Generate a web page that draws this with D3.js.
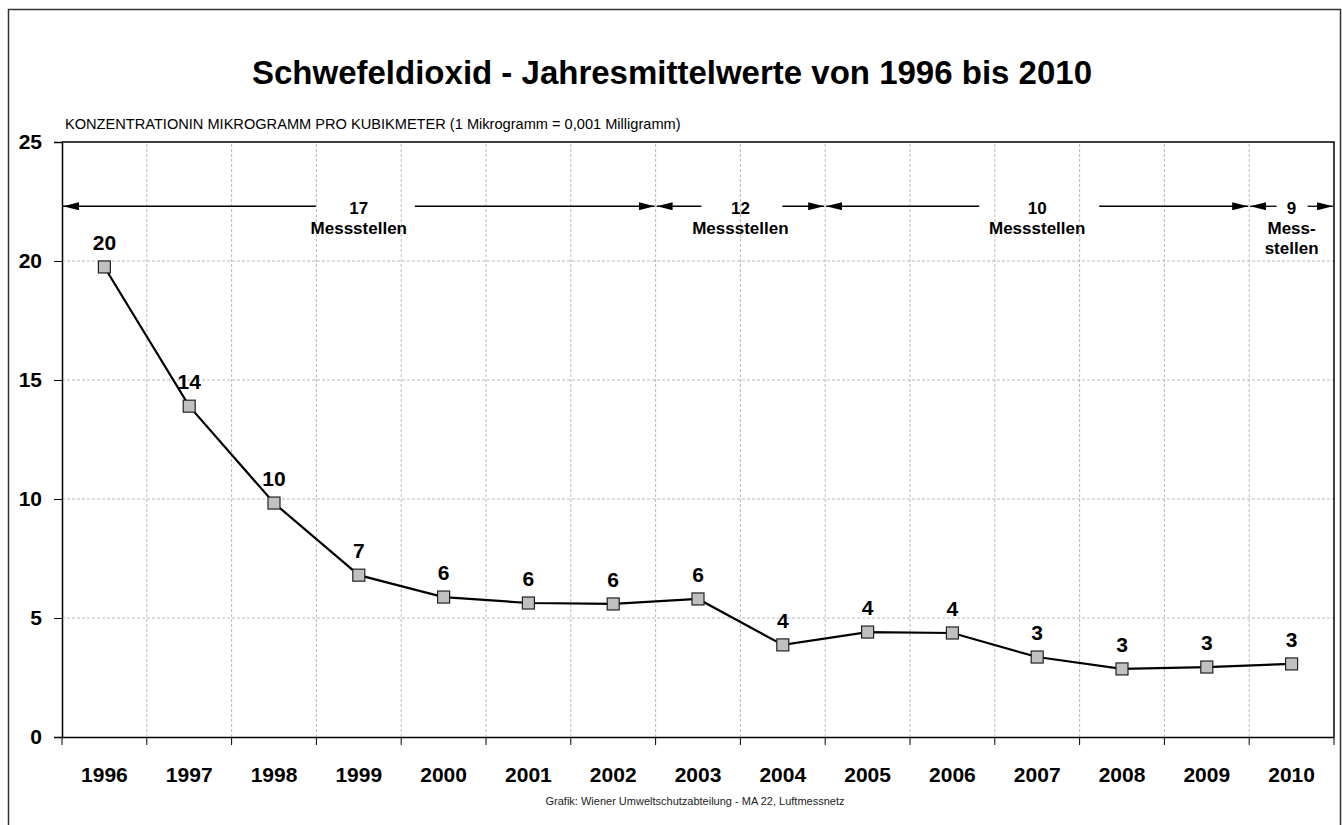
<!DOCTYPE html>
<html>
<head>
<meta charset="utf-8">
<script src="https://cdn.jsdelivr.net/npm/d3@7"></script>
<style>
  body { margin: 0; background: #fff; }
  svg { font-family: "Liberation Sans", Arial, sans-serif; }
</style>
</head>
<body>
<script>
// chart data
let years = ["1996", "1997", "1998", "1999", "2000", "2001", "2002", "2003",
  "2004", "2005", "2006", "2007", "2008", "2009", "2010"];
let values = [19.75, 13.9, 9.83, 6.8, 5.88, 5.63, 5.59, 5.8, 3.87, 4.41, 4.37, 3.36, 2.86, 2.94, 3.07];
let labels = ["20", "14", "10", "7", "6", "6", "6", "6", "4", "4", "4", "3", "3", "3", "3"];
let yTicks = [0, 5, 10, 15, 20, 25];

// station count ranges (first year, last year, label lines)
let stationFrom = ["1996", "2003", "2005", "2010"];
let stationTo = ["2002", "2004", "2009", "2010"];
let stationLines = [["17", "Messstellen"], ["12", "Messstellen"], ["10", "Messstellen"], ["9", "Mess-", "stellen"]];
let stationLevel = 22.3;

let width = 1342,
  height = 825;
let margin = { top: 142, right: 8, bottom: 88, left: 62 };

let svg = d3.select("body").append("svg")
  .attr("width", width)
  .attr("height", height);

// outer frame
svg.append("rect")
  .attr("x", 8.5).attr("y", 9.5)
  .attr("width", 1332).attr("height", 830)
  .attr("fill", "none")
  .attr("stroke", "#333")
  .attr("stroke-width", 1.5);

let x = d3.scaleBand()
  .domain(years)
  .range([margin.left, width - margin.right]);

let y = d3.scaleLinear()
  .domain([0, 25])
  .range([height - margin.bottom, margin.top]);

let x0 = x.range()[0], x1 = x.range()[1];
let font = "Liberation Sans, Arial, sans-serif";

// gridlines
svg.append("g")
  .selectAll("line")
  .data(yTicks.filter(d => d > 0 && d < 25))
  .join("line")
  .attr("x1", x0).attr("x2", x1)
  .attr("y1", d => y(d)).attr("y2", d => y(d))
  .attr("stroke", "#b8b8b8")
  .attr("stroke-dasharray", "3,2");

svg.append("g")
  .selectAll("line")
  .data(years.slice(1))
  .join("line")
  .attr("x1", d => x(d)).attr("x2", d => x(d))
  .attr("y1", y(0)).attr("y2", y(25))
  .attr("stroke", "#b8b8b8")
  .attr("stroke-dasharray", "3,2");

// top + right border of plot
svg.append("path")
  .attr("d", `M${x0},${y(25)}H${x1}V${y(0)}`)
  .attr("fill", "none")
  .attr("stroke", "#000")
  .attr("stroke-width", 1.5);

// y axis
let yAxis = svg.append("g")
  .attr("transform", `translate(${x0},0)`)
  .call(d3.axisLeft(y).tickValues(yTicks).tickSize(8).tickPadding(12));
yAxis.selectAll("text")
  .attr("font-size", 21).attr("font-weight", "bold")
  .attr("font-family", font);
yAxis.select(".domain").attr("stroke-width", 1.5);

// x axis
let xAxis = svg.append("g")
  .attr("transform", `translate(0,${y(0)})`)
  .call(d3.axisBottom(x).tickSize(0).tickPadding(30));
xAxis.selectAll("text")
  .attr("font-size", 21).attr("font-weight", "bold")
  .attr("font-family", font);
xAxis.select(".domain").attr("stroke-width", 1.5);
xAxis.selectAll(".bound")
  .data(years.concat(["end"]))
  .join("line")
  .attr("class", "bound")
  .attr("x1", d => d == "end" ? x1 : x(d))
  .attr("x2", d => d == "end" ? x1 : x(d))
  .attr("y1", 0).attr("y2", 8)
  .attr("stroke", "#000");

// line + markers
let line = d3.line()
  .x((d, i) => x(years[i]) + x.bandwidth() / 2)
  .y(d => y(d));

svg.append("path")
  .datum(values)
  .attr("d", line)
  .attr("fill", "none")
  .attr("stroke", "#000")
  .attr("stroke-width", 2.2);

svg.append("g")
  .selectAll("rect")
  .data(values)
  .join("rect")
  .attr("x", (d, i) => x(years[i]) + x.bandwidth() / 2 - 6)
  .attr("y", d => y(d) - 6)
  .attr("width", 12).attr("height", 12)
  .attr("fill", "#c0c0c0")
  .attr("stroke", "#222")
  .attr("stroke-width", 1.2);

svg.append("g")
  .selectAll("text")
  .data(values)
  .join("text")
  .attr("x", (d, i) => x(years[i]) + x.bandwidth() / 2)
  .attr("y", d => y(d) - 17)
  .attr("text-anchor", "middle")
  .attr("font-size", 21).attr("font-weight", "bold")
  .text((d, i) => labels[i]);

// station arrows
let defs = svg.append("defs");
defs.append("marker")
  .attr("id", "arr")
  .attr("viewBox", "0 0 16 8")
  .attr("refX", 16).attr("refY", 4)
  .attr("markerWidth", 16).attr("markerHeight", 8)
  .attr("markerUnits", "userSpaceOnUse")
  .attr("orient", "auto-start-reverse")
  .append("path")
  .attr("d", "M0,0L16,4L0,8Z")
  .attr("fill", "#000");

let gapsL = [43, 39, 58, 15];
let gapsR = [56, 42, 62, 16];
stationFrom.forEach((f, i) => {
  let left = x(f) + 1;
  let right = x(stationTo[i]) + x.bandwidth() - 1;
  let mid = (left + right) / 2;
  let ly = y(stationLevel);
  let g = svg.append("g");
  g.append("line")
    .attr("x1", mid - gapsL[i]).attr("x2", left)
    .attr("y1", ly).attr("y2", ly)
    .attr("stroke", "#000")
    .attr("stroke-width", 1.3)
    .attr("marker-end", "url(#arr)");
  g.append("line")
    .attr("x1", mid + gapsR[i]).attr("x2", right)
    .attr("y1", ly).attr("y2", ly)
    .attr("stroke", "#000")
    .attr("stroke-width", 1.3)
    .attr("marker-end", "url(#arr)");
  g.selectAll("text")
    .data(stationLines[i])
    .join("text")
    .attr("x", mid)
    .attr("y", (d, j) => ly + 8 + j * 20)
    .attr("text-anchor", "middle")
    .attr("font-size", 17).attr("font-weight", "bold")
    .text(d => d);
});

// titles
svg.append("text")
  .attr("x", 672).attr("y", 84)
  .attr("text-anchor", "middle")
  .attr("font-size", 33).attr("font-weight", "bold")
  .text("Schwefeldioxid - Jahresmittelwerte von 1996 bis 2010");

svg.append("text")
  .attr("x", 65).attr("y", 129)
  .attr("font-size", 14.6)
  .text("KONZENTRATIONIN MIKROGRAMM PRO KUBIKMETER (1 Mikrogramm = 0,001 Milligramm)");

svg.append("text")
  .attr("x", 695).attr("y", 805)
  .attr("text-anchor", "middle")
  .attr("font-size", 11)
  .attr("fill", "#222")
  .text("Grafik: Wiener Umweltschutzabteilung  - MA 22, Luftmessnetz");
</script>
</body>
</html>
